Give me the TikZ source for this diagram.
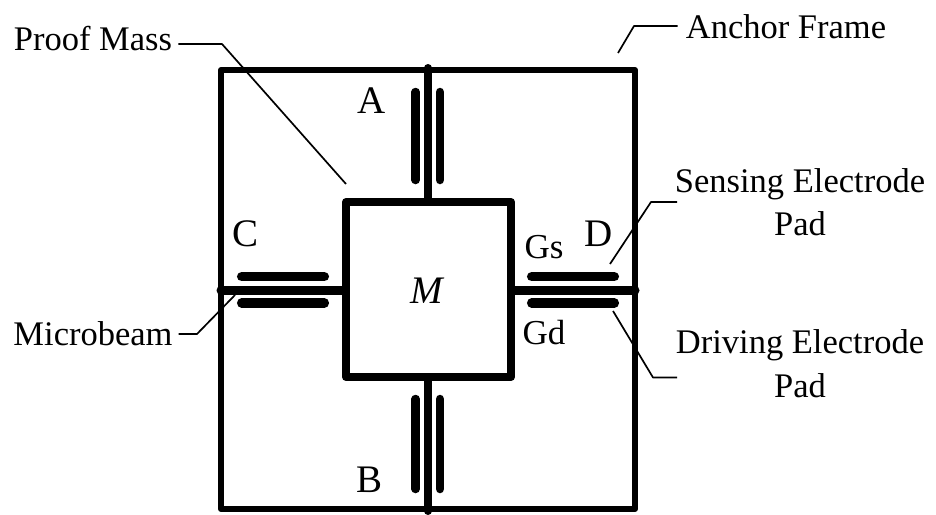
\documentclass[tikz,border=0pt]{standalone}
\usepackage{fontspec}
\setmainfont{Liberation Serif}
\usepackage{tikz}
\usetikzlibrary{calc,positioning}

\begin{document}
\begin{tikzpicture}[
    x=1pt, y=-1pt,
    line join=round,
    framebox/.style={draw=black, line width=6pt, minimum width=414pt, minimum height=439pt, inner sep=0pt, outer sep=0pt},
    massbox/.style={draw=black, fill=white, line width=8pt, minimum width=165pt, minimum height=175pt, inner sep=0pt, outer sep=0pt},
    vbeam/.style={draw=black, line width=8pt, line cap=round},
    hbeam/.style={draw=black, line width=9pt, line cap=round},
    vpad/.style={draw=black, line width=8.5pt, line cap=round},
    hpad/.style={draw=black, line width=9.5pt, line cap=round},
    leader/.style={draw=black, line width=1.7pt},
    label/.style={inner sep=0pt, anchor=base, font=\fontsize{34.5}{43}\selectfont},
    letter/.style={inner sep=0pt, anchor=base, font=\fontsize{39}{43}\selectfont},
    gap/.style={inner sep=0pt, anchor=base, font=\fontsize{35}{40}\selectfont}
  ]
  \useasboundingbox (0,0) rectangle (936,514);

  \node[framebox] (frame) at (428,289.5) {};

  % beams
  \coordinate (massCentre) at (428.5,289.5);
  \coordinate (topEnd) at (428,68);
  \coordinate (bottomEnd) at (428,511);
  \coordinate (leftEnd) at (221,290);
  \coordinate (rightEnd) at (635,290);
  \draw[vbeam] (topEnd) -- (topEnd |- massCentre);
  \draw[vbeam] (bottomEnd) -- (bottomEnd |- massCentre);
  \draw[hbeam] (leftEnd) -- (leftEnd -| massCentre);
  \draw[hbeam] (rightEnd) -- (rightEnd -| massCentre);

  \node[massbox] (mass) at (massCentre) {};

  % electrode pads
  \draw[vpad] (415.7,92) -- (415.7,180);
  \draw[vpad] (440,92) -- (440,180);
  \draw[vpad] (415.7,399) -- (415.7,489);
  \draw[vpad] (440,399) -- (440,489);
  \draw[hpad] (241.7,276.7) -- (324.3,276.7);
  \draw[hpad] (241.7,303) -- (324.3,303);
  \draw[hpad] (531.7,276.7) -- (614.3,276.7);
  \draw[hpad] (531.7,303) -- (614.3,303);

  % labels
  \node[letter] (labelA) at (372,113) {A};
  \node[letter] (labelB) at (370,492) {B};
  \node[letter] (labelC) at (246,246) {C};
  \node[letter] (labelD) at (599,246) {D};
  \node[gap] (labelGs) at (544,258) {Gs};
  \node[gap] (labelGd) at (544,344) {Gd};
  \node[letter] (labelM) at (428,303) {\textit{M}};

  \node[label] (proof) at (93,50) {Proof Mass};
  \node[label] (microbeam) at (93,345) {Microbeam};
  \node[label] (anchorFrame) at (786,38) {Anchor Frame};
  \node[label] (sensing) at (800,192) {Sensing Electrode};
  \node[label] (sensingPad) at (800,235) {Pad};
  \node[label] (driving) at (800,353) {Driving Electrode};
  \node[label] (drivingPad) at (800,397) {Pad};

  % leader lines
  \coordinate (proofTip) at (346,184);
  \coordinate (beamTip) at (235,295);
  \coordinate (frameTip) at (618,53);
  \coordinate (sensingTip) at (610,264);
  \coordinate (sensingEnd) at (677,202);
  \coordinate (drivingTip) at (613,311);
  \coordinate (drivingEnd) at (677,377.5);
  \draw[leader] (proof.east |- 0,44) ++(6,0) -- (222,44) -- (proofTip);
  \draw[leader] (microbeam.east |- 0,334) ++(6,0) -- (197,334) -- (beamTip);
  \draw[leader] (anchorFrame.west |- 0,26) ++(-8,0) -- (634,26) -- (frameTip);
  \draw[leader] (sensingEnd) -- (651,202) -- (sensingTip);
  \draw[leader] (drivingEnd) -- (653,377.5) -- (drivingTip);
\end{tikzpicture}
\end{document}
